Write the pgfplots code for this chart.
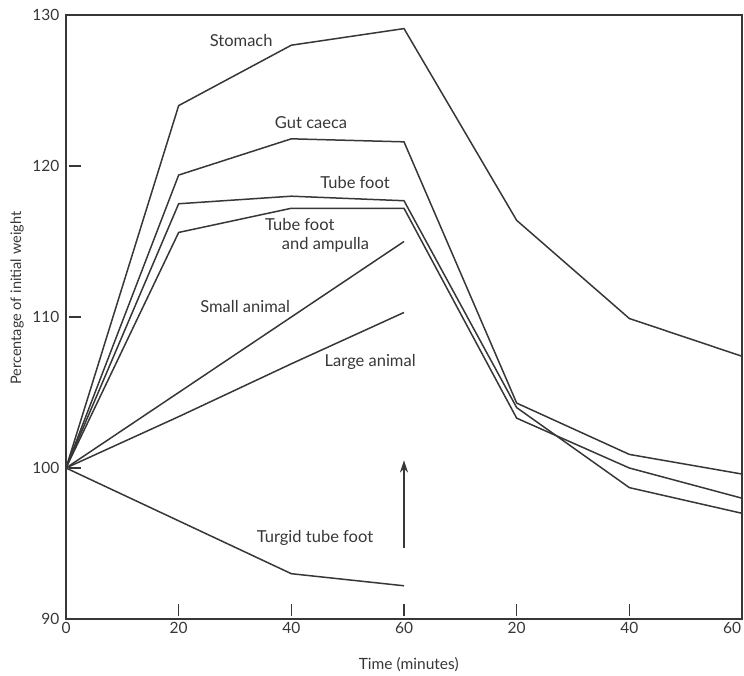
\documentclass[border=0pt]{standalone}
\usepackage{fontspec}
\setmainfont{Lato}
\usepackage{pgfplots}
\usepackage{pgfplotstable}
\pgfplotsset{compat=1.18}
\usetikzlibrary{arrows.meta}
\definecolor{ink}{RGB}{55,55,55}

% time runs 0-60 min in the first phase, then 20-60 min again (plotted at 80-120)
\pgfplotstableread{
t   stomach gut   tube  ampulla
0   100     100   100   100
20  124.0   119.4 117.5 115.6
40  128.0   121.8 118.0 117.2
60  129.1   121.6 117.7 117.2
80  116.4   104.3 104.0 103.3
100 109.9   100.9 98.7  100.0
120 107.4   99.6  97.0  98.0
}\organs

\pgfplotstableread{
t  small large turgid
0  100   100   100
20 105.0 103.4 96.5
40 110.0 106.9 93.0
60 115.0 110.3 92.2
}\whole

\begin{document}
\begin{tikzpicture}[font=\fontsize{16.5}{20}\selectfont]
\useasboundingbox (-66pt,-56pt) rectangle (678pt,619pt);
\begin{axis}[
  scale only axis,
  width=676pt, height=604pt,
  xmin=0, xmax=120, ymin=90, ymax=130,
  xtick={0,20,40,60,80,100,120},
  xticklabels={0,20,40,60,20,40,\makebox[0pt][r]{60\hspace{1pt}}},
  ytick={90,100,110,120,130},
  xtick pos=bottom, ytick pos=left,
  % centred ticks pushed inwards (the shift is applied twice)
  major tick length=12pt,
  xtick style={draw=ink, line width=1.5pt, yshift=3pt},
  ytick style={draw=ink, line width=1.5pt, xshift=3pt},
  axis line style={draw=ink, line width=1.5pt},
  tick label style={text=ink, font=\fontsize{15.5}{18}\selectfont},
  yticklabel style={xshift=-3pt},
  /pgf/number format/assume math mode=true,
  xlabel={Time (minutes)},
  ylabel={Percentage of initial weight},
  xlabel style={at={(axis description cs:0.507,-0.076)}, anchor=center, text=ink, font=\fontsize{15.5}{18}\selectfont},
  ylabel style={at={(axis description cs:-0.0725,0.531)}, anchor=center, text=ink, font=\fontsize{14.5}{17}\selectfont},
  clip=false,
  every axis plot post/.append style={draw=ink, line width=1.5pt, solid, mark=none},
]
  \addplot table[x=t, y=stomach] {\organs};
  \addplot table[x=t, y=gut] {\organs};
  \addplot table[x=t, y=tube] {\organs};
  \addplot table[x=t, y=ampulla] {\organs};
  \addplot table[x=t, y=small] {\whole};
  \addplot table[x=t, y=large] {\whole};
  \addplot table[x=t, y=turgid] {\whole};
  \addplot[-{Stealth[length=12pt, width=8pt]}] coordinates {(60,94.7) (60,100.5)};

  \node[text=ink] at (axis cs:31.1,128.3) {Stomach};
  \node[text=ink] at (axis cs:43.5,122.85) {Gut caeca};
  \node[text=ink] at (axis cs:51.3,118.9) {Tube foot};
  \node[text=ink, anchor=west, inner sep=0pt] at (axis cs:35.3,116.1) {Tube foot};
  \node[text=ink, anchor=west, inner sep=0pt] at (axis cs:38.3,114.8) {and ampulla};
  \node[text=ink] at (axis cs:31.8,110.7) {Small animal};
  \node[text=ink] at (axis cs:54.0,107.0) {Large animal};
  \node[text=ink] at (axis cs:44.2,95.4) {Turgid tube foot};
\end{axis}
\end{tikzpicture}
\end{document}
